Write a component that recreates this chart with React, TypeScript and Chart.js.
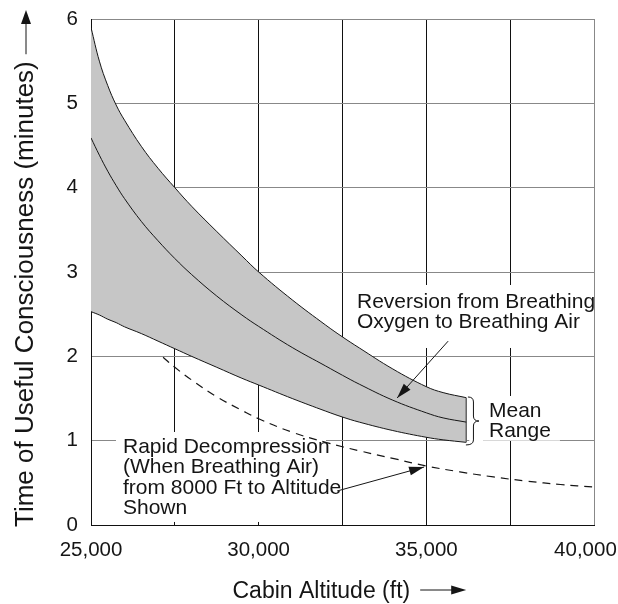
import React, { useEffect, useRef } from 'react';
import { Chart, registerables } from 'chart.js';

Chart.register(...registerables);

// ---- data ----
const altitudes = [25000, 25250, 25500, 25750, 26000, 26500, 27000, 27500, 28000, 28750, 29500, 30000, 31000, 32000, 32500, 33000, 34000, 35000, 35500, 36190];
const upperRange = [5.9, 5.5, 5.21, 4.98, 4.8, 4.49, 4.23, 4.0, 3.78, 3.48, 3.19, 3.0, 2.67, 2.37, 2.23, 2.1, 1.85, 1.64, 1.57, 1.51];
const meanValues = [4.59, 4.385, 4.195, 4.025, 3.87, 3.6, 3.37, 3.16, 2.97, 2.715, 2.49, 2.355, 2.105, 1.885, 1.775, 1.67, 1.48, 1.33, 1.27, 1.22];
const lowerRange = [2.53, 2.49, 2.44, 2.4, 2.35, 2.27, 2.18, 2.09, 2.0, 1.87, 1.74, 1.66, 1.5, 1.35, 1.28, 1.22, 1.12, 1.04, 1.01, 0.98];

const rapidAltitudes = [27150, 27500, 28000, 28750, 29500, 30000, 31000, 32000, 33000, 34000, 35000, 36000, 37000, 38000, 39000, 40000];
const rapidValues = [1.99, 1.87, 1.72, 1.52, 1.36, 1.26, 1.1, 0.98, 0.88, 0.79, 0.7, 0.63, 0.57, 0.52, 0.48, 0.45];

const xTickLabels: Record<number, string> = { 25000: '25,000', 30000: '30,000', 35000: '35,000', 40000: '40,000   ' };
const yTickLabels = ['0', '1', '2', '3', '4', '5', '6'];

const xTitle = 'Cabin Altitude (ft)';
const yTitle = 'Time of Useful Consciousness (minutes)';

const reversionLabel = ['Reversion from Breathing', 'Oxygen to Breathing Air'];
const rapidLabel = ['Rapid Decompression', '(When Breathing Air)', 'from 8000 Ft to Altitude', 'Shown'];
const rangeLabel = ['Mean', 'Range'];

// annotation placement in data coordinates
const labels = [
  { lines: reversionLabel, x: 32932, y: 2.573 },
  { lines: rapidLabel, x: 25954, y: 0.854 },
  { lines: rangeLabel, x: 36868, y: 1.281 },
];
const masks = [
  { x0: 32783, x1: 39880, y0: 2.846, y1: 2.099 },
  { x0: 25745, x1: 32008, y0: 1.103, y1: 0.036 },
  { x0: 36690, x1: 38985, y0: 1.53, y1: 1.0 },
  { x0: 36280, x1: 36690, y0: 1.015, y1: 0.985 },
];
const arrows = [
  { from: [35650, 2.18], to: [34129, 1.506] },
  { from: [32339, 0.403], to: [34934, 0.688] },
];
const bracket = { x: 36240, tip: 36570, top: 1.518, bottom: 0.949, mid: 1.233 };

const FONT = '"Liberation Sans", Arial, Helvetica, sans-serif';
const INK = '#151515';

function arrowHead(ctx: CanvasRenderingContext2D, fx: number, fy: number, tx: number, ty: number, len: number, half: number) {
  const a = Math.atan2(ty - fy, tx - fx);
  ctx.beginPath();
  ctx.moveTo(tx, ty);
  ctx.lineTo(tx - len * Math.cos(a) + half * Math.sin(a), ty - len * Math.sin(a) - half * Math.cos(a));
  ctx.lineTo(tx - len * Math.cos(a) - half * Math.sin(a), ty - len * Math.sin(a) + half * Math.cos(a));
  ctx.closePath();
  ctx.fill();
}

const decorPlugin = {
  id: 'decor',
  beforeDatasetsDraw(chart: any) {
    const { ctx, scales } = chart;
    const x = scales.x, y = scales.y;
    ctx.save();
    ctx.fillStyle = '#ffffff';
    for (const m of masks) {
      const l = x.getPixelForValue(m.x0), r = x.getPixelForValue(m.x1);
      const t = y.getPixelForValue(m.y0), b = y.getPixelForValue(m.y1);
      ctx.fillRect(l, t, r - l, b - t);
    }
    ctx.restore();
  },
  afterDatasetsDraw(chart: any) {
    const { ctx, scales, chartArea } = chart;
    const x = scales.x, y = scales.y;
    ctx.save();
    ctx.fillStyle = INK;
    ctx.strokeStyle = INK;
    ctx.lineWidth = 1;
    // annotation texts
    ctx.font = `21px ${FONT}`;
    ctx.textAlign = 'left';
    ctx.textBaseline = 'alphabetic';
    for (const lb of labels) {
      const px = x.getPixelForValue(lb.x);
      const py = y.getPixelForValue(lb.y);
      lb.lines.forEach((s, i) => ctx.fillText(s, px, py + i * 20.3));
    }
    // arrows
    for (const a of arrows) {
      const fx = x.getPixelForValue(a.from[0]), fy = y.getPixelForValue(a.from[1]);
      const tx = x.getPixelForValue(a.to[0]), ty = y.getPixelForValue(a.to[1]);
      ctx.beginPath();
      ctx.moveTo(fx, fy);
      ctx.lineTo(tx, ty);
      ctx.stroke();
      arrowHead(ctx, fx, fy, tx, ty, 15, 4.5);
    }
    // bracket
    const bx = x.getPixelForValue(bracket.x), bt = x.getPixelForValue(bracket.tip);
    const yt = y.getPixelForValue(bracket.top), yb = y.getPixelForValue(bracket.bottom), ym = y.getPixelForValue(bracket.mid);
    const bm = (bx + bt) / 2, r = 5;
    ctx.beginPath();
    ctx.moveTo(bx, yt);
    ctx.quadraticCurveTo(bm, yt, bm, yt + r);
    ctx.lineTo(bm, ym - r);
    ctx.quadraticCurveTo(bm, ym, bt, ym);
    ctx.quadraticCurveTo(bm, ym, bm, ym + r);
    ctx.lineTo(bm, yb - r);
    ctx.quadraticCurveTo(bm, yb, bx - 2, yb);
    ctx.stroke();

    // x axis title with arrow
    ctx.font = `23px ${FONT}`;
    const cx = (chartArea.left + chartArea.right) / 2;
    const xw = ctx.measureText(xTitle).width;
    const xs = cx - 110;
    const xb = chartArea.bottom + 73;
    ctx.fillText(xTitle, xs, xb);
    const ax0 = xs + xw + 10, ax1 = ax0 + 46, ay = xb - 8;
    ctx.beginPath();
    ctx.moveTo(ax0, ay);
    ctx.lineTo(ax1 - 10, ay);
    ctx.stroke();
    arrowHead(ctx, ax0, ay, ax1, ay, 15, 4.5);

    // y axis title with arrow
    ctx.font = `26px ${FONT}`;
    const yw = ctx.measureText(yTitle).width;
    const tx = 26;
    const start = chartArea.bottom + 2;
    ctx.save();
    ctx.translate(tx, start);
    ctx.rotate(-Math.PI / 2);
    ctx.textBaseline = 'middle';
    ctx.fillText(yTitle, 0, 0);
    ctx.restore();
    const endY = start - yw - 7;
    const tipY = chartArea.top - 9;
    ctx.beginPath();
    ctx.moveTo(tx, endY);
    ctx.lineTo(tx, tipY + 10);
    ctx.stroke();
    arrowHead(ctx, tx, endY, tx, tipY, 14, 5);
    ctx.restore();
  },
};

export default function App() {
  const ref = useRef<HTMLCanvasElement | null>(null);
  useEffect(() => {
    if (!ref.current) return;
    const pts = (xs: number[], ys: number[]) => xs.map((v, i) => ({ x: v, y: ys[i] }));
    const last = altitudes.length - 1;
    const chart = new Chart(ref.current, {
      type: 'line',
      data: {
        datasets: [
          {
            label: 'Upper',
            data: pts(altitudes, upperRange),
            borderColor: INK,
            borderWidth: 1,
            backgroundColor: '#c6c6c6',
            fill: '+1',
            pointRadius: 0,
            tension: 0.4,
            order: 3,
          },
          {
            label: 'Lower',
            data: pts(altitudes, lowerRange),
            borderColor: INK,
            borderWidth: 1,
            fill: false,
            pointRadius: 0,
            tension: 0.4,
            order: 2,
          },
          {
            label: 'Mean',
            data: pts(altitudes, meanValues),
            borderColor: INK,
            borderWidth: 1,
            fill: false,
            pointRadius: 0,
            tension: 0.4,
            order: 0,
          },
          {
            label: 'Rapid decompression',
            data: pts(rapidAltitudes, rapidValues),
            borderColor: INK,
            borderWidth: 1.2,
            borderDash: [8, 6],
            fill: false,
            pointRadius: 0,
            tension: 0.4,
            order: 1,
          },
          {
            label: 'Range end',
            data: [
              { x: altitudes[last], y: upperRange[last] },
              { x: altitudes[last], y: lowerRange[last] },
            ],
            borderColor: '#666',
            borderWidth: 1.5,
            fill: false,
            pointRadius: 0,
            order: 1,
          },
        ],
      },
      options: {
        animation: false,
        responsive: false,
        maintainAspectRatio: false,
        events: [],
        layout: { padding: { top: 19, right: 24, left: 0, bottom: 0 } },
        plugins: {
          legend: { display: false },
          tooltip: { enabled: false },
          title: { display: false },
        },
        scales: {
          x: {
            type: 'linear',
            min: 25000,
            max: 40000,
            afterBuildTicks: (scale: any) => {
              const t = [];
              for (let v = 25000; v <= 40000; v += 2500) t.push({ value: v });
              scale.ticks = t;
            },
            afterFit: (scale: any) => {
              scale.height = 79;
              scale.paddingLeft = 0;
              scale.paddingRight = 0;
            },
            grid: {
              color: (c: any) => (c.tick && c.tick.value === 40000 ? '#888' : '#111'),
              lineWidth: 1,
              drawTicks: false,
            },
            border: { color: '#111', width: 1 },
            ticks: {
              autoSkip: false,
              maxRotation: 0,
              padding: 13,
              color: INK,
              font: { family: FONT, size: 20.5 },
              callback: (v: any) => xTickLabels[Number(v)] ?? '',
            },
          },
          y: {
            type: 'linear',
            min: 0,
            max: 6,
            afterFit: (scale: any) => {
              scale.width = 91;
              scale.paddingTop = 0;
              scale.paddingBottom = 0;
            },
            grid: { color: '#888', lineWidth: 1, drawTicks: false },
            border: { color: '#111', width: 1 },
            ticks: {
              stepSize: 1,
              padding: 13,
              color: INK,
              font: { family: FONT, size: 20.5 },
              callback: (v: any) => yTickLabels[Number(v)] ?? '',
            },
          },
        },
      },
      plugins: [decorPlugin],
    } as any);
    return () => chart.destroy();
  }, []);
  return (
    <div style={{ position: 'absolute', left: 0, top: 0, width: 618, height: 604, background: '#fff' }}>
      <canvas ref={ref} width={618} height={604} style={{ display: 'block', width: 618, height: 604 }} />
    </div>
  );
}
